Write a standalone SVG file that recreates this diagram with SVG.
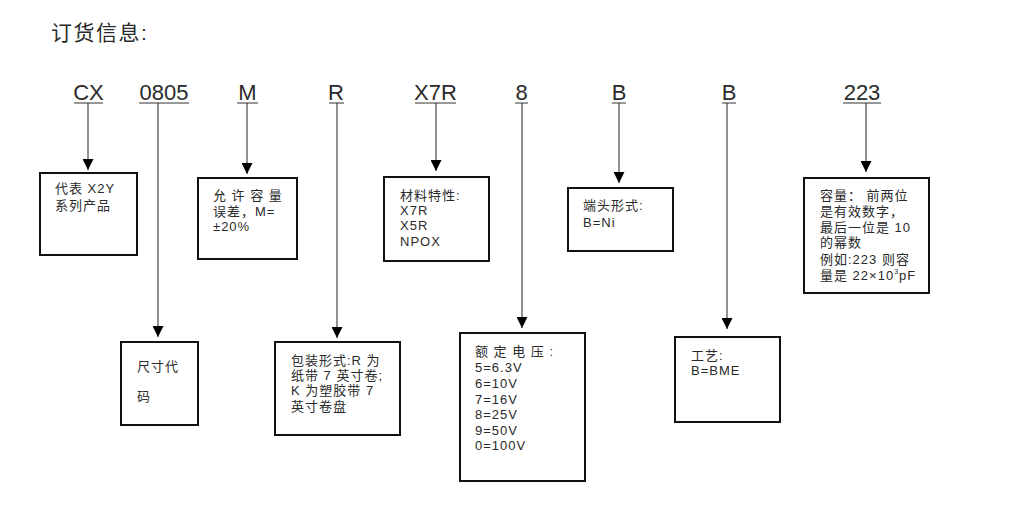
<svg xmlns="http://www.w3.org/2000/svg" width="1024" height="513" viewBox="0 0 1024 513">
<style>
text{font-family:"Liberation Sans","Noto Sans CJK SC",sans-serif;fill:#2a2a2a}
.code{font-size:22px;text-anchor:middle}
.t{font-size:13px;letter-spacing:1px}
.box{fill:#fff;stroke:#111;stroke-width:2}
.ul{stroke:#333;stroke-width:1}
.c{stroke:#222;stroke-width:1;fill:none;marker-end:url(#ah)}
</style>
<defs>
<marker id="ah" markerUnits="userSpaceOnUse" markerWidth="12" markerHeight="11" refX="11" refY="5.5" orient="auto">
<path d="M0,0 L11,5.5 L0,11 Z" fill="#000"/>
</marker>
</defs>
<rect width="1024" height="513" fill="#fff"/>
<text x="51" y="40" style="font-size:21px;letter-spacing:1.5px">订货信息:</text>
<g id="codes">
<text class="code" x="88.5" y="100">CX</text><line class="ul" x1="74" y1="103" x2="103" y2="103"/>
<text class="code" x="164" y="100">0805</text><line class="ul" x1="139" y1="103" x2="189" y2="103"/>
<text class="code" x="247.5" y="100">M</text><line class="ul" x1="237" y1="103" x2="258" y2="103"/>
<text class="code" x="336" y="100">R</text><line class="ul" x1="329" y1="103" x2="344" y2="103"/>
<text class="code" x="435.5" y="100">X7R</text><line class="ul" x1="415" y1="103" x2="456" y2="103"/>
<text class="code" x="521.5" y="100">8</text><line class="ul" x1="515" y1="103" x2="528" y2="103"/>
<text class="code" x="619" y="100">B</text><line class="ul" x1="612" y1="103" x2="626" y2="103"/>
<text class="code" x="729" y="100">B</text><line class="ul" x1="722" y1="103" x2="736" y2="103"/>
<text class="code" x="862" y="100">223</text><line class="ul" x1="843" y1="103" x2="881" y2="103"/>
</g>
<g id="connectors">
<line class="c" x1="88" y1="103" x2="88" y2="170"/>
<line class="c" x1="158" y1="103" x2="158" y2="337"/>
<line class="c" x1="247" y1="103" x2="247" y2="174"/>
<line class="c" x1="337" y1="103" x2="337" y2="338"/>
<line class="c" x1="436" y1="103" x2="436" y2="171"/>
<line class="c" x1="522" y1="103" x2="522" y2="328"/>
<line class="c" x1="619" y1="103" x2="619" y2="183"/>
<line class="c" x1="727" y1="103" x2="727" y2="329"/>
<line class="c" x1="866" y1="103" x2="866" y2="172"/>
</g>
<g id="n-cx">
<rect class="box" x="40" y="173" width="97" height="82"/>
<text class="t" x="55" y="193">代表 X2Y</text>
<text class="t" x="55" y="210">系列产品</text>
</g>
<g id="n-m">
<rect class="box" x="198" y="178" width="99" height="81"/>
<text class="t" x="213" y="199.5">允 许 容 量</text>
<text class="t" x="213" y="216">误差，M=</text>
<text class="t" x="213" y="230.5">±20%</text>
</g>
<g id="n-x7r">
<rect class="box" x="384" y="177" width="105" height="84"/>
<text class="t" x="400" y="200">材料特性:</text>
<text class="t" x="400" y="215">X7R</text>
<text class="t" x="400" y="230">X5R</text>
<text class="t" x="400" y="246">NPOX</text>
</g>
<g id="n-b">
<rect class="box" x="568" y="188" width="105" height="63"/>
<text class="t" x="583" y="210">端头形式:</text>
<text class="t" x="583" y="227">B=Ni</text>
</g>
<g id="n-223">
<rect class="box" x="804" y="178" width="125" height="115"/>
<text class="t" x="820" y="199.5">容量： 前两位</text>
<text class="t" x="820" y="216">是有效数字，</text>
<text class="t" x="820" y="231.5">最后一位是 10</text>
<text class="t" x="820" y="247">的幂数</text>
<text class="t" x="820" y="263.5">例如:223 则容</text>
<text class="t" x="820" y="279.5">量是 22×10<tspan dy="-6" style="font-size:7px">3</tspan><tspan dy="6">pF</tspan></text>
</g>
<g id="n-0805">
<rect class="box" x="121" y="342" width="77" height="83"/>
<text class="t" x="137" y="371">尺寸代</text>
<text class="t" x="137" y="401">码</text>
</g>
<g id="n-r">
<rect class="box" x="275" y="342" width="125" height="93"/>
<text class="t" x="291" y="364.5">包装形式:R 为</text>
<text class="t" x="291" y="379.5">纸带 7 英寸卷;</text>
<text class="t" x="291" y="394.5">K 为塑胶带 7</text>
<text class="t" x="291" y="410.5">英寸卷盘</text>
</g>
<g id="n-8">
<rect class="box" x="460" y="333" width="125" height="148"/>
<text class="t" x="475" y="356">额 定 电 压 :</text>
<text class="t" x="475" y="372">5=6.3V</text>
<text class="t" x="475" y="388">6=10V</text>
<text class="t" x="475" y="403.5">7=16V</text>
<text class="t" x="475" y="419">8=25V</text>
<text class="t" x="475" y="434.5">9=50V</text>
<text class="t" x="475" y="450">0=100V</text>
</g>
<g id="n-b2">
<rect class="box" x="675" y="337" width="105" height="85"/>
<text class="t" x="691" y="359.5">工艺:</text>
<text class="t" x="691" y="374.5">B=BME</text>
</g>
</svg>
